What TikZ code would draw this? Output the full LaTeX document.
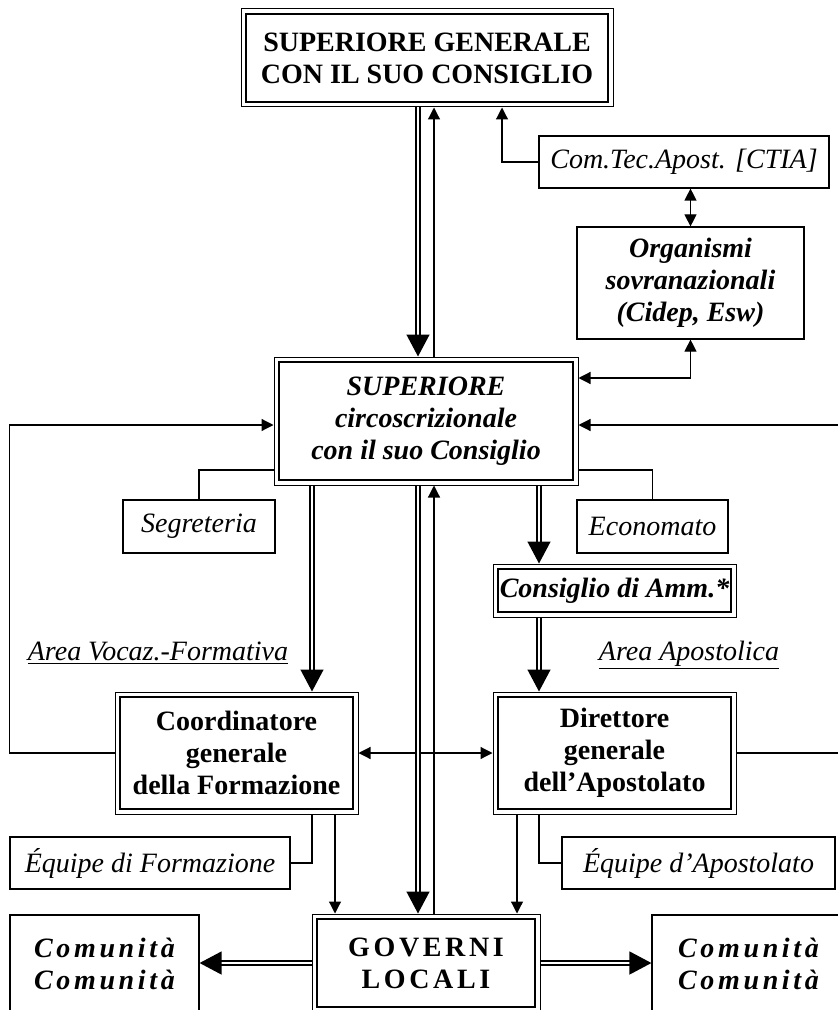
\documentclass[tikz,border=0pt]{standalone}
\usepackage{fontspec}
\setmainfont{Liberation Serif}
\newfontfamily\spacedfont[LetterSpace=13]{Liberation Serif}
\usetikzlibrary{arrows.meta, positioning}
\newcommand{\mainsize}{\fontsize{14}{16}\selectfont}
\tikzset{
  cbox/.style   ={draw, line width=0.6pt, align=center, inner sep=2pt,
                  font=\mainsize},
  dbox/.style   ={cbox, line width=0.5pt,
                  path picture={\draw[line width=1.1pt]
                    ([shift={(2.4pt,-2.4pt)}]path picture bounding box.north west) rectangle
                    ([shift={(-2.4pt,2.4pt)}]path picture bounding box.south east);}},
  barrow/.style ={draw, double, double distance=1.4pt, line width=0.7pt,
                  -{Triangle[length=11pt,width=11.5pt]}},
  tarrow/.style ={line width=0.6pt, -{Triangle[length=6pt,width=6pt]}},
  darrow/.style ={line width=0.6pt,
                  {Triangle[length=6pt,width=6pt]}-{Triangle[length=6pt,width=6pt]}},
  link/.style   ={line width=0.6pt},
  area/.style   ={font=\mainsize\itshape, anchor=base}
}
\begin{document}
\begin{tikzpicture}[x=0.5pt, y=-0.5pt]
  \path[use as bounding box, fill=white] (0,0) rectangle (837,1010);

  % upper level
  \node[dbox, font=\mainsize\bfseries, minimum width=186pt, minimum height=49pt] (sg) at (427,58) {SUPERIORE GENERALE\\CON IL SUO CONSIGLIO};
  \node[cbox, font=\mainsize\itshape, minimum width=145pt, minimum height=26pt] (ctia) at (684,162) {Com.Tec.Apost. [CTIA]};
  \node[cbox, font=\mainsize\bfseries\itshape, minimum width=113.5pt, minimum height=56pt] (org) at (690.5,283) {Organismi\\sovranazionali\\(Cidep, Esw)};
  \node[dbox, font=\mainsize\bfseries\itshape, minimum width=152pt, minimum height=64pt] (sc) at (426,421) {SUPERIORE\\circoscrizionale\\con il suo Consiglio};
  \node[cbox, font=\mainsize\itshape, minimum width=76pt, minimum height=26.5pt] (seg) at (199,526.5) {Segreteria};
  \node[cbox, font=\mainsize\itshape, minimum width=75.5pt, minimum height=26.5pt] (eco) at (652.5,526.5) {Economato};
  \node[dbox, font=\mainsize\bfseries\itshape, minimum width=121.5pt, minimum height=26.5pt, inner sep=1pt] (cda) at (614.5,590.5) {Consiglio di Amm.*};

  % areas
  \node[area] (avf) at (158,660) {\underline{Area Vocaz.-Formativa}};
  \node[area] (aap) at (689,660) {\underline{Area Apostolica}};
  \node[dbox, font=\mainsize\bfseries, minimum width=121.5pt, minimum height=61pt] (coord) at (236.5,753) {Coordinatore\\generale\\della Formazione};
  \node[dbox, font=\mainsize\bfseries, minimum width=121.5pt, minimum height=61pt] (dir) at (614.5,753) {Direttore\\generale\\dell’Apostolato};
  \node[cbox, font=\mainsize\itshape, minimum width=140pt, minimum height=26pt] (eqf) at (150,863) {Équipe di Formazione};
  \node[cbox, font=\mainsize\itshape, minimum width=136.5pt, minimum height=26pt] (eqa) at (698.5,863) {Équipe d’Apostolato};

  % local level
  \node[dbox, font=\mainsize\spacedfont\bfseries, minimum width=114pt, minimum height=49pt] (gov) at (426,963) {GOVERNI\\LOCALI};
  \node[cbox, font=\mainsize\spacedfont\bfseries\itshape, minimum width=94.5pt, minimum height=48.5pt] (coml) at (104.5,963.5) {Comunità\\Comunità};
  \node[cbox, font=\mainsize\spacedfont\bfseries\itshape, minimum width=96.5pt, minimum height=48.5pt] (comr) at (748.5,963.5) {Comunità\\Comunità};

  % connectors
  \draw[barrow] ([xshift=-4pt]sc.north |- sg.south) -- ([xshift=-4pt]sc.north);
  \draw[tarrow] ([xshift=4pt]sc.north) -- ([xshift=4pt]sc.north |- sg.south);
  \draw[tarrow] (ctia.west) -| ([xshift=37.5pt]sg.south);
  \draw[darrow] (org.north |- ctia.south) -- (org.north);
  \draw[darrow] (org.south) |- ([yshift=21.5pt]sc.east);
  \draw[tarrow] (dir.east) -- ++(110,0) |- ([yshift=-2pt]sc.east);
  \draw[tarrow] (coord.west) -- ++(-105,0) |- ([yshift=-2pt]sc.west);
  \draw[link] ([yshift=-24.5pt]sc.west) -| (seg.north);
  \draw[link] ([yshift=-24.5pt]sc.east) -| (eco.north);
  \draw[barrow] ([xshift=-57pt]sc.south) -- ([xshift=-57pt]sc.south |- coord.north);
  \draw[barrow] ([xshift=56.5pt]sc.south) -- ([xshift=56.5pt]sc.south |- cda.north);
  \draw[barrow] ([xshift=56.5pt]sc.south |- cda.south) -- ([xshift=56.5pt]sc.south |- dir.north);
  \draw[darrow] (coord.east) -- (dir.west);
  \draw[barrow] ([xshift=-4pt]sc.south) -- ([xshift=-4pt]sc.south |- gov.north);
  \draw[tarrow] ([xshift=4pt]sc.south |- gov.north) -- ([xshift=4pt]sc.south);
  \draw[tarrow] ([xshift=49.25pt]coord.south) -- ([xshift=49.25pt]coord.south |- gov.north);
  \draw[link] ([xshift=37.75pt]coord.south) |- (eqf.east);
  \draw[tarrow] ([xshift=-48.75pt]dir.south) -- ([xshift=-48.75pt]dir.south |- gov.north);
  \draw[link] ([xshift=-37.75pt]dir.south) |- (eqa.west);
  \draw[barrow] (gov.west) -- (gov.west -| coml.east);
  \draw[barrow] (gov.east) -- (gov.east -| comr.west);
\end{tikzpicture}
\end{document}
